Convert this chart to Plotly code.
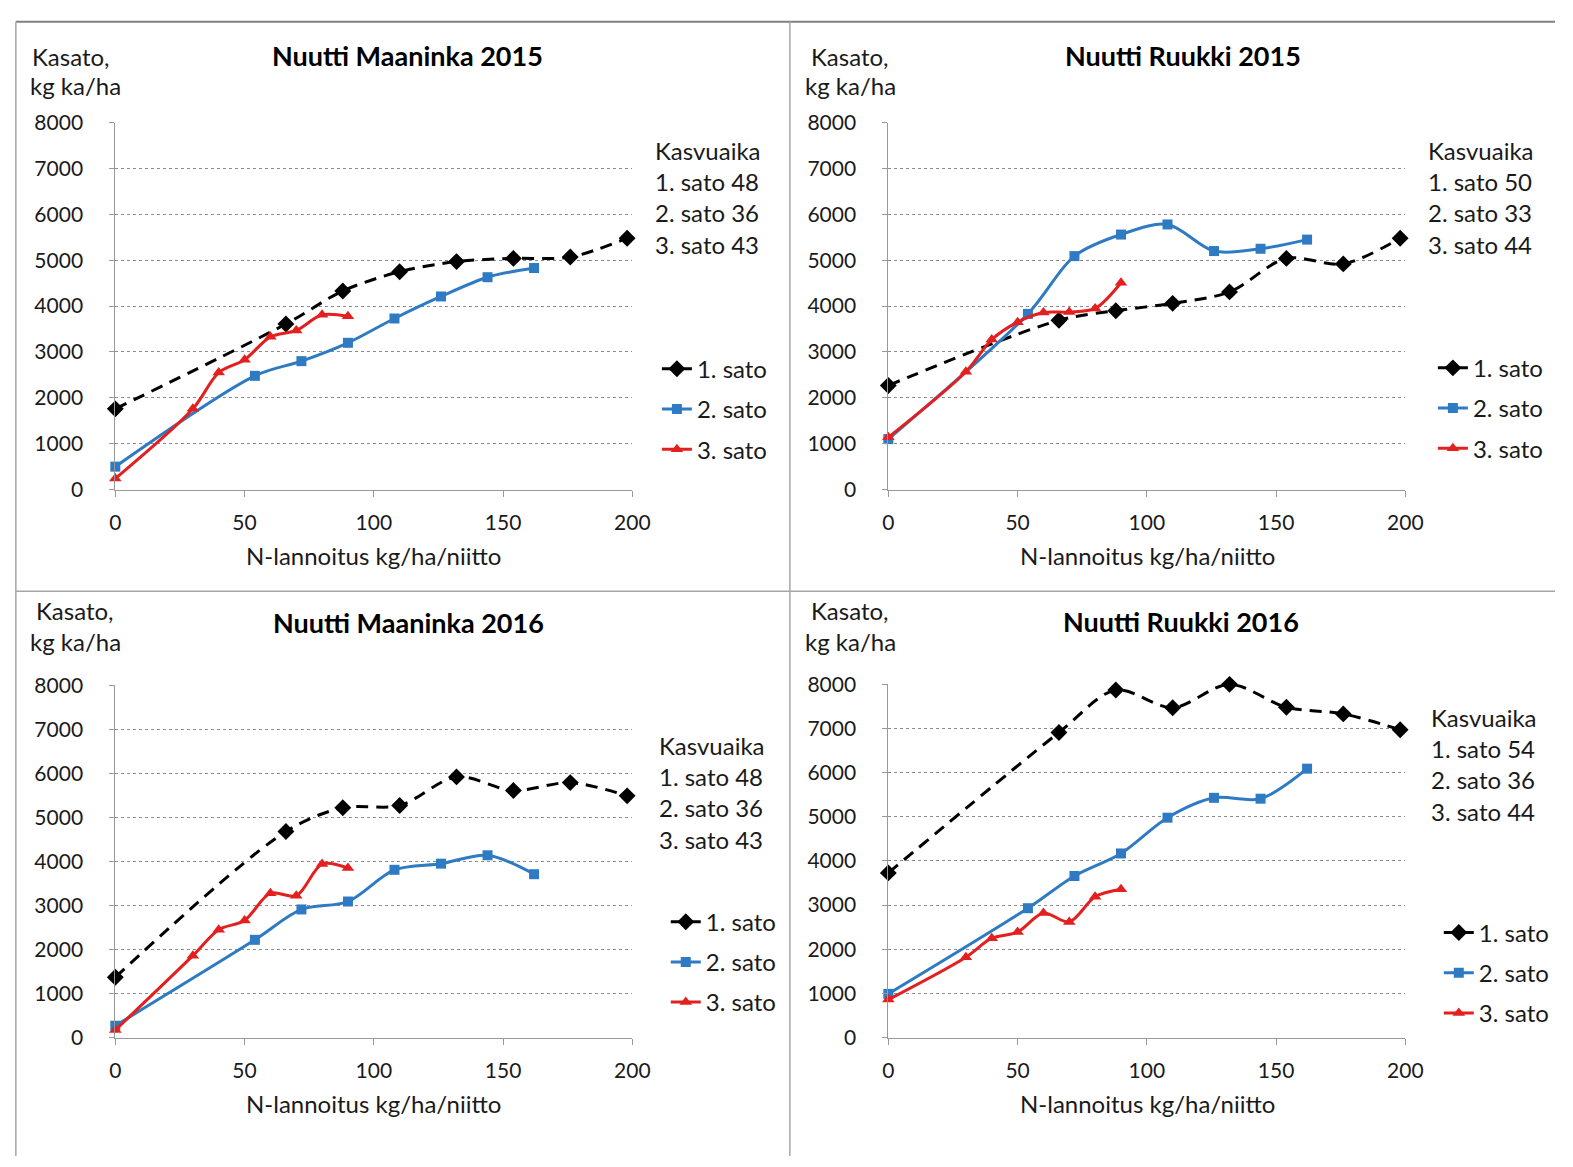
import plotly.graph_objects as go

W, H = 1573, 1167

# ---------------- data ----------------
x_sato1 = [0, 66, 88, 110, 132, 154, 176, 198]
x_sato2 = [0, 54, 72, 90, 108, 126, 144, 162]
x_sato3 = [0, 30, 40, 50, 60, 70, 80, 90]

titles = ["Nuutti Maaninka 2015", "Nuutti Ruukki 2015", "Nuutti Maaninka 2016", "Nuutti Ruukki 2016"]
series_names = ["1. sato", "2. sato", "3. sato"]

maaninka15_s1 = [1760, 3610, 4330, 4750, 4970, 5040, 5070, 5480]
maaninka15_s2 = [500, 2480, 2800, 3200, 3730, 4210, 4630, 4830]
maaninka15_s3 = [240, 1760, 2550, 2830, 3330, 3470, 3810, 3780]

ruukki15_s1 = [2270, 3690, 3900, 4060, 4310, 5040, 4920, 5480]
ruukki15_s2 = [1100, 3830, 5090, 5560, 5780, 5200, 5250, 5450]
ruukki15_s3 = [1140, 2570, 3270, 3650, 3860, 3870, 3950, 4510]

maaninka16_s1 = [1370, 4680, 5220, 5270, 5920, 5610, 5790, 5490]
maaninka16_s2 = [270, 2220, 2910, 3090, 3810, 3950, 4140, 3710]
maaninka16_s3 = [170, 1860, 2450, 2660, 3280, 3220, 3940, 3850]

ruukki16_s1 = [3730, 6910, 7870, 7470, 8000, 7480, 7330, 6970]
ruukki16_s2 = [990, 2930, 3660, 4170, 4980, 5430, 5410, 6090]
ruukki16_s3 = [860, 1820, 2250, 2390, 2820, 2620, 3190, 3360]

kasvuaika = [[48, 36, 43], [50, 33, 44], [48, 36, 43], [54, 36, 44]]

x_ticks = [0, 50, 100, 150, 200]
y_ticks = [0, 1000, 2000, 3000, 4000, 5000, 6000, 7000, 8000]

panels = [
    [maaninka15_s1, maaninka15_s2, maaninka15_s3],
    [ruukki15_s1, ruukki15_s2, ruukki15_s3],
    [maaninka16_s1, maaninka16_s2, maaninka16_s3],
    [ruukki16_s1, ruukki16_s2, ruukki16_s3],
]

# ---------------- layout geometry (pixels) ----------------
def px(x):
    return x / W

def py(y):
    return 1 - y / H

# plot area in pixels: (left, right, top(8000), bottom(0))
areas = [
    (111, 636, 111, 486),
    (896, 1421, 111, 486),
    (111, 636, 686, 1046),
    (896, 1421, 685, 1046),
]

FONT = "Lato, 'Open Sans', sans-serif"
TXT = "#1a1a1a"

colors = ["#000000", "#2E7BC4", "#E3201F"]
symbols = ["diamond", "square", "triangle-up"]
msizes = [13, 10, 11]
dashes = ["12px,8px", "solid", "solid"]
xs = [x_sato1, x_sato2, x_sato3]

fig = go.Figure()

for p, data in enumerate(panels):
    sfx = "" if p == 0 else str(p + 1)
    leg = "legend" if p == 0 else "legend" + str(p + 1)
    for s in range(3):
        fig.add_trace(go.Scatter(
            x=xs[s], y=data[s], name=series_names[s],
            mode="lines+markers",
            line=dict(color=colors[s], width=3, dash=dashes[s], shape="spline", smoothing=0.9),
            marker=dict(symbol=symbols[s], size=msizes[s], color=colors[s]),
            xaxis="x" + sfx, yaxis="y" + sfx,
            legend=leg, legendgroup=f"p{p}s{s}",
            cliponaxis=False,
        ))

layout = dict(
    width=W, height=H,
    margin=dict(l=0, r=0, t=0, b=0),
    paper_bgcolor="white", plot_bgcolor="white",
    font=dict(family=FONT, size=24, color=TXT),
    showlegend=True,
)

legend_pos = [(661, 340), (1449, 339), (670, 905), (1455, 916)]

for p, (l, r, t, b) in enumerate(areas):
    sfx = "" if p == 0 else str(p + 1)
    layout["xaxis" + sfx] = dict(
        domain=[px(l), px(r)], range=[0, 200], anchor="y" + sfx,
        tickvals=x_ticks, ticks="outside", ticklen=6, tickcolor="#999999",
        showline=True, linecolor="#999999", linewidth=1,
        showgrid=False, zeroline=False,
        tickfont=dict(family=FONT, size=21, color=TXT),
        ticklabelstandoff=8, fixedrange=True,
    )
    layout["yaxis" + sfx] = dict(
        domain=[py(b), py(t)], range=[0, 8000], anchor="x" + sfx,
        tickvals=y_ticks, ticks="outside", ticklen=5, tickcolor="#999999",
        showline=True, linecolor="#999999", linewidth=1,
        showgrid=True, gridcolor="#8c8c8c", gridwidth=1, griddash="dot",
        zeroline=False,
        tickfont=dict(family=FONT, size=21, color=TXT),
        ticklabelstandoff=22, fixedrange=True,
    )
    leg = "legend" if p == 0 else "legend" + str(p + 1)
    lx, ly = legend_pos[p]
    layout[leg] = dict(
        x=px(lx), y=py(ly), xanchor="left", yanchor="top",
        bgcolor="rgba(0,0,0,0)", borderwidth=0,
        font=dict(family=FONT, size=24, color=TXT),
        tracegroupgap=6, itemclick=False, itemdoubleclick=False,
    )

fig.update_layout(**layout)

annotations = []
# titles
title_pos = [(408, 42), (1195, 42), (409, 622), (1193, 621)]
for p, (x, y) in enumerate(title_pos):
    annotations.append(dict(text="<b>" + titles[p] + "</b>", x=px(x), y=py(y),
                            xref="paper", yref="paper", showarrow=False,
                            xanchor="center", yanchor="middle",
                            font=dict(family=FONT, size=27, color="#000000")))
# y-axis labels
ylab_pos = [((66, 43), (71, 73)), ((857, 43), (858, 73)), ((70, 610), (71, 641)), ((857, 610), (858, 641))]
for (a, b) in ylab_pos:
    annotations.append(dict(text="Kasato,", x=px(a[0]), y=py(a[1]), xref="paper", yref="paper",
                            showarrow=False, xanchor="center", yanchor="middle"))
    annotations.append(dict(text="kg ka/ha", x=px(b[0]), y=py(b[1]), xref="paper", yref="paper",
                            showarrow=False, xanchor="center", yanchor="middle"))
# x-axis titles
xt_pos = [(373, 553), (1159, 553), (373, 1113), (1159, 1113)]
for (x, y) in xt_pos:
    annotations.append(dict(text="N-lannoitus kg/ha/niitto", x=px(x), y=py(y), xref="paper", yref="paper",
                            showarrow=False, xanchor="center", yanchor="middle"))
# Kasvuaika blocks
kv_pos = [(657, 188), (1442, 188), (661, 796), (1445, 767)]
for p, (x, y) in enumerate(kv_pos):
    lines = ["Kasvuaika"] + [f"{series_names[i]} {kasvuaika[p][i]}" for i in range(3)]
    annotations.append(dict(text="<br>".join(lines), x=px(x), y=py(y), xref="paper", yref="paper",
                            showarrow=False, xanchor="left", yanchor="middle", align="left"))
fig.update_layout(annotations=annotations)

# panel borders / dividers
shapes = [
    dict(type="line", xref="paper", yref="paper", x0=px(10), x1=1, y0=py(8), y1=py(8),
         line=dict(color="#808080", width=2)),
    dict(type="line", xref="paper", yref="paper", x0=px(10), x1=px(10), y0=py(8), y1=0,
         line=dict(color="#a6a6a6", width=1.5)),
    dict(type="line", xref="paper", yref="paper", x0=px(796), x1=px(796), y0=py(8), y1=0,
         line=dict(color="#a6a6a6", width=1.5)),
    dict(type="line", xref="paper", yref="paper", x0=px(10), x1=1, y0=py(590), y1=py(590),
         line=dict(color="#a6a6a6", width=1.5)),
]
fig.update_layout(shapes=shapes)

fig.write_html(
    "out.html",
    config={"displayModeBar": False},
    post_script="document.body.style.margin='0';document.body.style.overflow='hidden';",
)
